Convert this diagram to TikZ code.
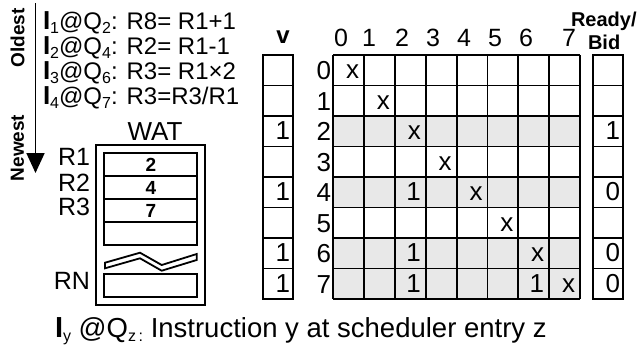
\documentclass[tikz,border=0pt]{standalone}
\usepackage{fontspec}
\setmainfont{Liberation Sans}
\usetikzlibrary{arrows.meta}
\newcommand\fsz[1]{\fontsize{#1}{#1}\selectfont}
\newcommand\sbs[2][16]{\raisebox{-4.5pt}{\fsz{#1}#2}}
\begin{document}
\begin{tikzpicture}[x=1pt,y=-1pt,
  txt/.style={inner sep=0pt,outer sep=0pt},
  ln/.style={line width=1.8pt,black},
  shade/.style={fill=black!9}]
\useasboundingbox (0,0) rectangle (639,349);
\fill[white] (0,0) rectangle (639,349);

% ---------- instruction list ----------
\foreach \i/\yy/\q/\rest in {1/29/2/{R8= R1+1},2/54/4/{R2= R1-1},3/79/6/{R3= R1×2},4/104/7/{R3=R3/R1}}{
  \node[txt,anchor=base west] (ins\i) at (43,\yy) {\fsz{24}{\fsz{26}\textbf{I}}\sbs{\i}@Q\sbs{\q}: \rest};
}
% age arrow
\coordinate (atop) at (35.5,3);
\coordinate (abot) at (35.5,173);
\draw[line width=1.8pt,-{Triangle[width=18pt,length=20pt]}] (atop) -- (abot);
\node[txt,rotate=90] (old) at (17.5,38) {\fsz{19}\textbf{Oldest}};
\node[txt,rotate=90] (new) at (17.5,148) {\fsz{19}\textbf{Newest}};

% ---------- WAT ----------
\node[txt] (wat) at (155,132) {\fsz{26}WAT};
\draw[ln] (96,145) rectangle (205,305);
\draw[ln] (104,153) rectangle (197,245);
\foreach \yy in {176,199,222} \draw[ln] (104,\yy) -- (197,\yy);
\draw[ln] (104,274) rectangle (197,297);
\draw[ln,line join=miter] (105,262.7) -- (140,252.7) -- (161.7,265) -- (196.7,254) -- (196.7,260) -- (161.7,270.7) -- (140,258.3) -- (105,268.3) -- cycle;
\node[txt] (w1) at (151,164.5) {\fsz{19}\textbf{2}};
\node[txt] (w2) at (151,187.5) {\fsz{19}\textbf{4}};
\node[txt] (w3) at (151,210.5) {\fsz{19}\textbf{7}};
\node[txt,anchor=east] (r1) at (90,157) {\fsz{25}R1};
\node[txt,anchor=east] (r2) at (90,183) {\fsz{25}R2};
\node[txt,anchor=east] (r3) at (90,207) {\fsz{25}R3};
\node[txt,anchor=east] (rn) at (90,281) {\fsz{25}RN};

% ---------- matrix ----------
\def\gx{333.3}\def\cw{30.84}\def\gy{55}\def\rh{30.5}
\foreach \r in {2,4,6,7}
  \fill[shade] (\gx,\gy+\rh*\r) rectangle (\gx+8*\cw,\gy+\rh*\r+\rh);
\foreach \c in {0,...,8} \draw[ln] (\gx+\cw*\c,\gy) -- (\gx+\cw*\c,\gy+8*\rh);
\foreach \r in {0,...,8} \draw[ln] (\gx,\gy+\rh*\r) -- (\gx+8*\cw,\gy+\rh*\r);
% v column and ready column
\foreach \xa/\xb in {262.7/293.3,593.3/623.3}{
  \draw[ln] (\xa,\gy) rectangle (\xb,\gy+8*\rh);
  \foreach \r in {1,...,7} \draw[ln] (\xa,\gy+\rh*\r) -- (\xb,\gy+\rh*\r);
}
% headers
\node[txt,anchor=base] (hv) at (283,43) {\fsz{24}\textbf{v}};
\node[txt,anchor=base west] (hready) at (571,26) {\fsz{20}\textbf{Ready/}};
\node[txt,anchor=base west] (hbid) at (588,49) {\fsz{20}\textbf{Bid}};
\foreach \c/\xx in {0/341,1/369,2/402,3/433,4/464,5/495,6/526,7/569}
  \node[txt,anchor=base] (hc\c) at (\xx,46) {\fsz{25}\c};
\foreach \r in {0,...,7}
  \node[txt,anchor=base east] (hr\r) at (331,\gy+\rh*\r+\rh-6) {\fsz{26}\r};
% cell contents
\foreach \r/\c/\t in {0/0/x,1/1/x,2/2/x,3/3/x,4/2/1,4/4/x,5/5/x,6/2/1,6/6/x,7/2/1,7/6/1,7/7/x}
  \node[txt,anchor=base east] (m\r\c) at (\gx+\cw*\c+\cw-5,\gy+\rh*\r+\rh-7) {\fsz{26}\t};
\foreach \r in {2,4,6,7}
  \node[txt,anchor=base east] (v\r) at (290,\gy+\rh*\r+\rh-7) {\fsz{26}1};
\foreach \r/\t in {2/1,4/0,6/0,7/0}
  \node[txt,anchor=base east] (rb\r) at (620,\gy+\rh*\r+\rh-7) {\fsz{26}\t};

% ---------- legend ----------
\node[txt,anchor=base west] (legend) at (55,337) {\fsz{27.5}{\fsz{29}\textbf{I}}\sbs[16]{y} @Q\sbs[16]{z\,:} Instruction y at scheduler entry z};
\end{tikzpicture}
\end{document}
